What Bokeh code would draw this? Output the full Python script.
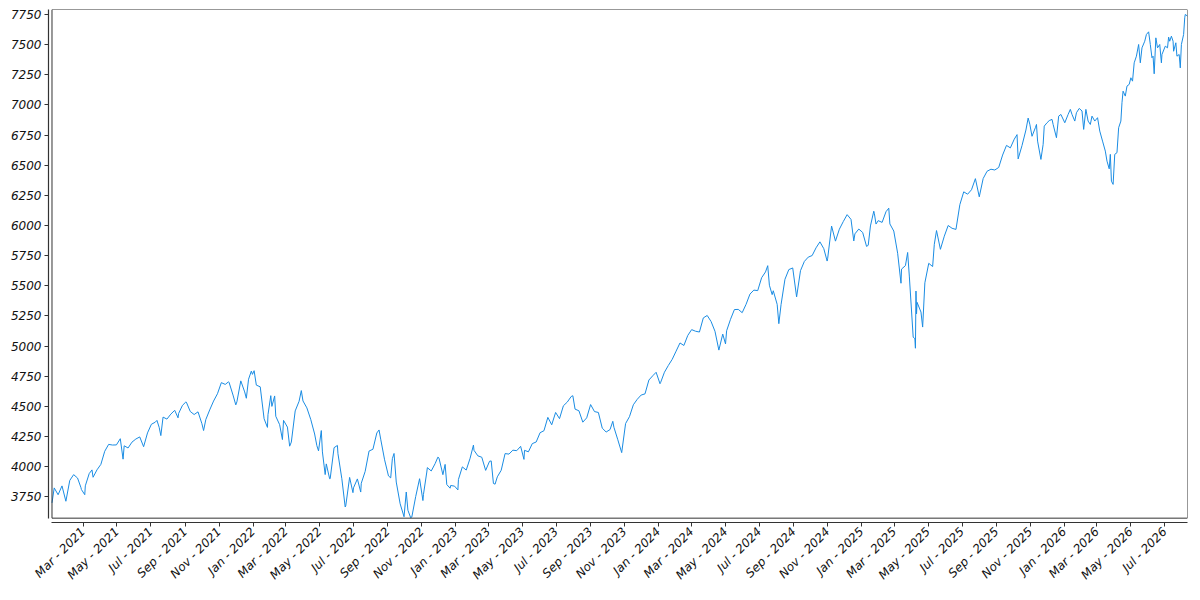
import math
import pandas as pd
from bokeh.plotting import figure
from bokeh.models import (Range1d, BoxAnnotation, MonthsTicker, DatetimeTickFormatter,
                          SingleIntervalTicker, ColumnDataSource)
from bokeh.embed import file_html
from bokeh.resources import INLINE

# ---- data: weekly (Friday) closes ----
weekly_start = "2021-01-08"
close_2021 = [3824.68, 3768.25, 3841.47, 3714.24, 3886.83, 3934.83, 3906.71, 3811.15, 3841.94, 3943.34,
              3913.10, 3974.54, 4019.87, 4128.80, 4185.47, 4180.17, 4181.17, 4232.60, 4173.85, 4155.86,
              4204.11, 4229.89, 4247.44, 4166.45, 4280.70, 4352.34, 4369.55, 4327.16, 4411.79, 4395.26,
              4436.52, 4468.00, 4441.67, 4509.37, 4535.43, 4458.58, 4432.99, 4455.48, 4357.04, 4391.34,
              4471.37, 4544.90, 4605.38, 4697.53, 4682.85, 4697.96, 4594.62, 4538.43, 4712.02, 4620.64,
              4725.79, 4766.18]
close_2022 = [4677.03, 4662.85, 4397.94, 4431.85, 4500.53, 4418.64, 4348.87, 4384.65, 4328.87, 4204.31,
              4463.12, 4543.06, 4545.86, 4488.28, 4392.59, 4271.78, 4131.93, 4123.34, 4023.89, 3901.36,
              4158.24, 4108.54, 3900.86, 3674.84, 3911.74, 3825.33, 3899.38, 3863.16, 3961.63, 4130.29,
              4145.19, 4280.15, 4228.48, 4057.66, 3924.26, 4067.36, 3873.33, 3693.23, 3585.62, 3639.66,
              3583.07, 3752.75, 3901.06, 3770.55, 3992.93, 3965.34, 4026.12, 4071.70, 3934.38, 3852.36,
              3844.82, 3839.50]
close_2023 = [3895.08, 3999.09, 3972.61, 4070.56, 4136.48, 4090.46, 4079.09, 3970.04, 4045.64, 3861.59,
              3916.64, 3970.99, 4109.31, 4105.02, 4137.64, 4133.52, 4169.48, 4136.25, 4124.08, 4191.98,
              4205.45, 4282.37, 4298.86, 4409.59, 4348.33, 4450.38, 4398.95, 4505.42, 4536.34, 4582.23,
              4478.03, 4464.05, 4369.71, 4405.71, 4515.77, 4457.49, 4450.32, 4320.06, 4288.05, 4308.50,
              4327.78, 4224.16, 4117.37, 4358.34, 4415.24, 4514.02, 4559.34, 4594.63, 4604.37, 4719.19,
              4754.63, 4769.83]
close_2024 = [4697.24, 4783.83, 4839.81, 4890.97, 4958.61, 5026.61, 5005.57, 5088.80, 5137.08, 5123.69,
              5117.09, 5234.18, 5254.35, 5204.34, 5123.41, 4967.23, 5099.96, 5127.79, 5222.68, 5303.27,
              5304.72, 5277.51, 5346.99, 5431.60, 5464.62, 5460.48, 5567.19, 5615.35, 5505.00, 5459.10,
              5346.56, 5344.16, 5554.25, 5634.61, 5648.40, 5408.42, 5626.02, 5702.55, 5738.17, 5751.07,
              5815.03, 5864.67, 5808.12, 5728.80, 5995.54, 5870.62, 5969.34, 6032.38, 6090.27, 6051.09,
              5930.85, 5970.84]
close_2025 = [5942.47, 5827.04, 5996.66, 6101.24, 6040.53, 6025.99, 6114.63, 6013.13, 5954.50, 5770.20,
              5638.94, 5667.56, 5580.94, 5074.08, 5363.36, 5282.70, 5525.21, 5686.67, 5659.91, 5958.38,
              5802.82, 5911.69, 6000.36, 5976.97, 5967.84, 6173.07, 6279.35, 6259.75, 6296.79, 6388.64,
              6238.01, 6389.45, 6449.80, 6466.91, 6460.26, 6481.50, 6584.29, 6664.36, 6643.70, 6715.79,
              6552.51, 6664.01, 6791.69, 6840.20]

# ---- intra-week highs / lows visible on the chart ----
extra_dates = ["2021-01-04", "2021-02-25", "2021-03-04", "2021-03-17", "2021-05-12", "2021-07-12",
               "2021-07-19", "2021-08-19", "2021-09-02", "2021-10-04", "2021-11-18", "2021-12-01",
               "2021-12-20", "2021-12-29",
               "2022-01-03", "2022-01-27", "2022-02-02", "2022-02-09", "2022-02-23", "2022-03-08",
               "2022-03-29", "2022-04-26", "2022-05-04", "2022-05-11", "2022-05-19", "2022-06-02",
               "2022-06-16", "2022-06-30", "2022-07-14", "2022-08-16", "2022-09-06", "2022-09-12",
               "2022-10-04", "2022-10-12", "2022-11-03", "2022-11-10", "2022-11-30", "2022-12-13",
               "2022-12-22",
               "2023-01-05", "2023-02-02", "2023-03-06", "2023-03-13", "2023-05-04", "2023-07-31",
               "2023-10-11", "2023-12-28",
               "2024-01-04", "2024-05-01", "2024-07-16", "2024-07-24", "2024-08-05", "2024-10-31",
               "2024-12-18",
               "2025-01-13", "2025-01-23", "2025-01-27", "2025-02-19", "2025-03-13", "2025-03-25",
               "2025-04-07", "2025-04-08", "2025-04-09", "2025-04-10", "2025-04-21", "2025-05-12",
               "2025-10-08", "2025-10-28"]
extra_values = [3700.65, 3829.34, 3768.47, 3974.12, 4063.04, 4384.63,
                4258.49, 4405.80, 4536.95, 4300.46, 4704.54, 4513.04,
                4568.02, 4793.06,
                4796.56, 4326.51, 4589.38, 4587.18, 4225.50, 4170.70,
                4631.60, 4175.20, 4300.17, 3935.18, 3900.79, 4176.82,
                3666.77, 3785.38, 3790.38, 4305.20, 3908.19, 4110.41,
                3790.93, 3577.03, 3719.89, 3956.37, 4080.11, 4019.65,
                3822.39,
                3808.10, 4179.76, 4048.42, 3855.76, 4061.22, 4588.96,
                4376.95, 4783.35,
                4688.68, 5018.39, 5667.20, 5427.13, 5186.33, 5705.45,
                5872.16,
                5836.22, 6118.71, 6012.28, 6144.15, 5521.52, 5776.65,
                5062.25, 4982.77, 5456.90, 5268.05, 5158.20, 5844.19,
                6753.72, 6890.89]

# ---- Nov 2025 onwards ----
late_dates = ["2025-11-04", "2025-11-10", "2025-11-12", "2025-11-14", "2025-11-20", "2025-11-24",
              "2025-11-26", "2025-12-01", "2025-12-05", "2025-12-10", "2025-12-12", "2025-12-18",
              "2025-12-22", "2025-12-26",
              "2026-01-02", "2026-01-08", "2026-01-12", "2026-01-15", "2026-01-20", "2026-01-23",
              "2026-01-28", "2026-02-02", "2026-02-05", "2026-02-09", "2026-02-13", "2026-02-17",
              "2026-02-20", "2026-02-25", "2026-03-02", "2026-03-06", "2026-03-11", "2026-03-16",
              "2026-03-19", "2026-03-23", "2026-03-25", "2026-03-27", "2026-03-30", "2026-04-02",
              "2026-04-06", "2026-04-09", "2026-04-13", "2026-04-15", "2026-04-17", "2026-04-21",
              "2026-04-24", "2026-04-28", "2026-05-01", "2026-05-04", "2026-05-07", "2026-05-11",
              "2026-05-15", "2026-05-18", "2026-05-21", "2026-05-26", "2026-05-29", "2026-06-02",
              "2026-06-05", "2026-06-08", "2026-06-10", "2026-06-12", "2026-06-15", "2026-06-18",
              "2026-06-22", "2026-06-25", "2026-06-26", "2026-07-02", "2026-07-06", "2026-07-08",
              "2026-07-10", "2026-07-13", "2026-07-16", "2026-07-17", "2026-07-21", "2026-07-23",
              "2026-07-27", "2026-07-29", "2026-07-31", "2026-08-04", "2026-08-06", "2026-08-07",
              "2026-08-11"]
late_values = [6740, 6811, 6838, 6700, 6548, 6672,
               6824, 6852, 6870, 6880, 6838, 6728,
               6907, 6921,
               6852, 6921, 6963, 6921, 6866, 6935,
               6971, 6950, 6797, 6963, 6866, 6838,
               6907, 6866, 6894, 6783, 6700, 6617,
               6534, 6470, 6590, 6368, 6341, 6590,
               6604, 6811, 6866, 7018, 7114, 7073,
               7156, 7170, 7225, 7197, 7349, 7404,
               7501, 7349, 7473, 7528, 7584, 7606,
               7501, 7391, 7404, 7258, 7556, 7473,
               7501, 7349, 7418, 7487, 7473, 7562,
               7528, 7570, 7528, 7445, 7515, 7404,
               7418, 7307, 7501, 7584, 7722, 7750,
               7736]

y_ticks_step = 250

# ---- assemble series ----
weekly_values = close_2021 + close_2022 + close_2023 + close_2024 + close_2025
weekly_dates = pd.date_range(weekly_start, periods=len(weekly_values), freq="W-FRI")
s = pd.concat([
    pd.Series(weekly_values, index=weekly_dates),
    pd.Series(extra_values, index=pd.to_datetime(extra_dates)),
    pd.Series(late_values, index=pd.to_datetime(late_dates)),
])
s = s[~s.index.duplicated(keep="last")].sort_index()
src = ColumnDataSource(dict(date=s.index, close=s.values))

def ms(ts):
    return pd.Timestamp(ts).value / 1e6

# inner data box and offset (outward) axes
x_lo = ms(s.index.min())
x_hi = ms(s.index.max())
x_outer = x_lo - 6.3 * 86400000
y_lo, y_hi = 3574, 7791
y_outer = 3538

p = figure(width=1192, height=590, x_axis_type="datetime", output_backend="svg",
           toolbar_location=None,
           x_range=Range1d(x_outer, x_hi), y_range=Range1d(y_outer, y_hi),
           min_border_left=48, min_border_right=5, min_border_top=9, min_border_bottom=68)
p.outline_line_color = None
p.xgrid.grid_line_color = None
p.ygrid.grid_line_color = None
p.background_fill_color = "white"
p.border_fill_color = "white"

p.line("date", "close", source=src, line_color="#1a8ce3", line_width=1)

box = BoxAnnotation(left=x_lo, right=x_hi, bottom=y_lo, top=y_hi,
                    fill_color=None, fill_alpha=0, line_color="#333333",
                    line_alpha=1.0, line_width=1)
p.add_layout(box)

for ax in (p.xaxis[0], p.yaxis[0]):
    ax.axis_line_color = "#333333"
    ax.axis_line_width = 1.2
    ax.major_tick_line_color = "#333333"
    ax.major_tick_out = 4
    ax.major_tick_in = 0
    ax.minor_tick_line_color = None
    ax.major_label_text_font = "DejaVu Sans"
    ax.major_label_text_font_style = "italic"
    ax.major_label_text_font_size = "12px"
    ax.major_label_text_color = "#111111"
    ax.major_label_standoff = 3

# BokehJS month indices are zero-based: 0 = January
p.xaxis.ticker = MonthsTicker(months=[0, 2, 4, 6, 8, 10])
fmt = "%b - %Y"
p.xaxis.formatter = DatetimeTickFormatter(months=fmt, days=fmt, years=fmt, hours=fmt,
                                          hourmin=fmt, minutes=fmt, minsec=fmt, seconds=fmt,
                                          milliseconds=fmt, microseconds=fmt)
p.xaxis.major_label_orientation = math.pi / 4
p.xaxis.bounds = (x_lo, x_hi)

p.yaxis.ticker = SingleIntervalTicker(interval=y_ticks_step)
p.yaxis.bounds = (y_lo, y_hi)

open("out.html", "w").write(file_html(p, INLINE))
